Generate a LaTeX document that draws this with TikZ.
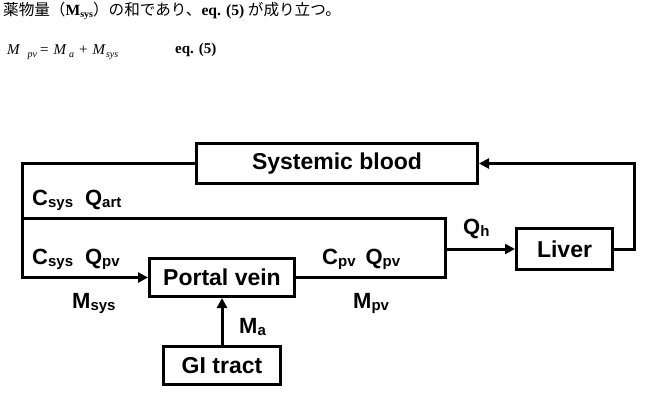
\documentclass[tikz,border=0pt]{standalone}
\usepackage{fontspec}
\setmainfont{Liberation Sans}
\newfontfamily\tnr{Liberation Serif}
\newfontfamily\jpfont{Noto Sans CJK JP}
\usetikzlibrary{arrows.meta}
\newcommand\lsub[1]{\raisebox{-2.5pt}{\fontsize{15}{15}\selectfont #1}}
\newcommand\esub[1]{\raisebox{-3pt}{\fontsize{10}{10}\selectfont\itshape #1}}
\begin{document}
\begin{tikzpicture}[x=1pt,y=-1pt,
  box/.style={draw, line width=3pt, inner sep=0pt, font=\fontsize{23}{23}\selectfont\bfseries},
  conn/.style={line width=3pt},
  arr/.style={line width=3pt, -{Triangle[length=10pt,width=10pt]}},
  lbl/.style={anchor=base west, inner sep=0pt, font=\fontsize{22}{22}\selectfont\bfseries}]
\useasboundingbox (0,0) rectangle (645,401);
% header text
\node[anchor=base west, inner sep=0pt, font=\fontsize{15.6}{16}\selectfont] (hdr) at (3,16)
  {\jpfont 薬物量（{\tnr\bfseries M\raisebox{-2pt}{\fontsize{10}{10}\selectfont sys}}）の和であり、{\tnr\bfseries eq. (5)} が成り立つ。};
\node[anchor=base west, inner sep=0pt, font=\fontsize{15}{15}\selectfont\tnr] (eqn) at (7,55)
  {\itshape M\hspace{8pt}\esub{pv}\hspace{3pt}\upshape =\hspace{5pt}\itshape M\hspace{3pt}\esub{a}\hspace{5pt}\upshape +\hspace{5pt}\itshape M\hspace{1pt}\esub{sys}};
\node[anchor=base west, inner sep=0pt, font=\fontsize{15}{15}\selectfont\tnr\bfseries] (eqlbl) at (175,54) {eq. (5)};
% boxes
\node[box, minimum width=281pt, minimum height=40pt] (sys) at (337,163.5) {Systemic blood};
\node[box, minimum width=145pt, minimum height=38pt] (pv) at (222,277.5) {Portal vein};
\node[box, minimum width=96pt, minimum height=41pt] (liver) at (564.5,249) {Liver};
\node[box, minimum width=117pt, minimum height=38pt] (gi) at (222,365.5) {GI tract};
% corner coordinates
\coordinate (cTL) at (22.5,163.5);
\coordinate (cML) at (22.5,218);
\coordinate (cBL) at (22.5,277.5);
\coordinate (cMR) at (445,218);
\coordinate (cJ) at (445,249);
\coordinate (cBR) at (445,277.5);
\coordinate (cLR) at (634,249);
\coordinate (cTR) at (634,163.5);
% connectors
\draw[arr] (sys.west) -- (cTL) -- (cBL) -- (pv.west);
\draw[conn] (cML) -- (cMR) -- (cBR) -- (pv.east);
\draw[arr] (cJ) -- (liver.west);
\draw[arr] (liver.east) -- (cLR) -- (cTR) -- (sys.east);
\draw[arr] (gi.north) -- (pv.south);
% labels
\node[lbl] (l1) at (32,205) {C\lsub{sys}\hspace{12pt}Q\lsub{art}};
\node[lbl] (l2) at (32,264) {C\lsub{sys}\hspace{12pt}Q\lsub{pv}};
\node[lbl] (l3) at (322,264) {C\lsub{pv}\hspace{10pt}Q\lsub{pv}};
\node[lbl] (l4) at (463,234) {Q\lsub{h}};
\node[lbl] (l5) at (72,308) {M\lsub{sys}};
\node[lbl] (l6) at (353,308) {M\lsub{pv}};
\node[lbl] (l7) at (239,333) {M\lsub{a}};
\end{tikzpicture}
\end{document}
